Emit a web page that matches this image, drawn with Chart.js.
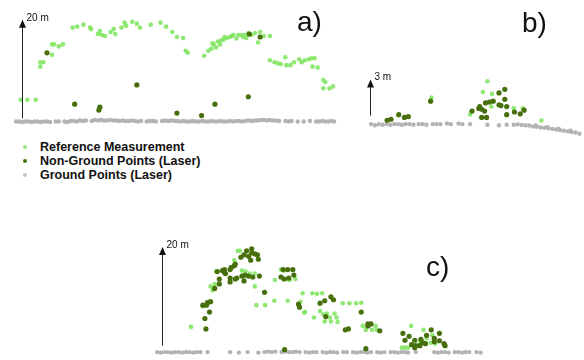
<!DOCTYPE html>
<html>
<head>
<meta charset="utf-8">
<script src="https://cdn.jsdelivr.net/npm/chart.js@4.4.1/dist/chart.umd.min.js"></script>
<style>
  body { margin: 0; background: #fff; }
  #wrap { position: relative; width: 584px; height: 360px; overflow: hidden; font-family: "Liberation Sans", Arial, sans-serif; }
  canvas { position: absolute; }
  .tag { position: absolute; font-size: 28px; line-height: 28px; color: #111; }
  .leg { position: absolute; left: 40px; font-size: 12.5px; font-weight: bold; color: #111; line-height: 14px; }
  .dot { position: absolute; left: 23px; width: 4px; height: 4px; border-radius: 2px; }
</style>
</head>
<body>
<div id="wrap">
  <canvas id="chartA" width="332" height="130" style="left:10px;top:0px"></canvas>
  <canvas id="chartB" width="224" height="85" style="left:360px;top:60px"></canvas>
  <canvas id="chartC" width="350" height="130" style="left:145px;top:230px"></canvas>
  <div class="tag" style="left:297px;top:8px">a)</div>
  <div class="tag" style="left:522px;top:9px">b)</div>
  <div class="tag" style="left:426px;top:253px">c)</div>
  <div class="dot" style="top:145px;background:#9be57f"></div>
  <div class="leg" style="top:140px">Reference Measurement</div>
  <div class="dot" style="top:159px;background:#4d7414"></div>
  <div class="leg" style="top:154px">Non-Ground Points (Laser)</div>
  <div class="dot" style="top:173px;background:#c4c4c4"></div>
  <div class="leg" style="top:168px">Ground Points (Laser)</div>
</div>
<script>
// distances and heights in metres, [distance, height]
const seriesNames = ['Non-Ground Points (Laser)', 'Reference Measurement', 'Ground Points (Laser)'];

// panel a
const refA = [
  [-0.2,3.8],[1.1,3.8],[2.7,3.8],[3.6,10.5],[3.6,11.4],[4.2,11.4],[5.9,15.0],[6.3,15.0],[7.2,14.6],[8.0,15.0],
  [5.9,12.9],[9.9,18.4],[10.8,18.6],[12.0,19.0],[13.3,18.4],[13.5,18.1],[14.8,17.1],[15.2,17.7],[15.6,16.9],[16.2,16.7],
  [17.3,17.5],[17.9,18.1],[18.2,17.1],[19.4,18.4],[20.0,19.4],[20.3,18.8],[21.5,19.6],[22.4,19.2],[23.0,18.4],[25.1,19.0],
  [27.0,19.4],[28.1,18.6],[29.3,17.5],[30.2,16.5],[31.4,16.3],[31.9,13.7],[32.3,13.3],
  [35.5,12.7],[36.3,13.7],[36.9,14.1],[37.1,15.2],[37.8,14.4],[37.4,15.0],[38.2,15.6],[38.6,15.0],[38.8,15.8],[39.3,16.0],
  [39.5,16.5],[39.9,16.3],[40.5,16.5],[40.9,16.7],[41.2,16.9],[41.8,16.2],[42.2,16.9],[42.8,16.9],[43.1,16.5],[43.5,16.9],
  [43.7,16.3],[44.1,17.3],[44.7,16.9],[45.4,17.3],[46.0,15.4],[46.4,17.5],[47.1,16.7],[48.3,16.7],
  [48.3,11.8],[49.2,11.4],[49.8,11.2],[50.4,11.0],[51.3,12.4],[51.5,10.8],[52.3,10.8],[53.0,11.4],[54.0,12.0],[54.5,11.4],
  [55.1,11.8],[55.9,12.0],[56.4,12.2],[57.0,12.2],[56.6,10.5],[57.6,10.3],[58.7,7.8],[59.1,7.4],[58.7,6.1],[59.9,6.1],[60.6,6.5]
];
const nonGroundA = [
  [4.9,13.3],[10.3,2.9],[15.2,2.3],[15.0,1.7],[22.4,6.8],[30.2,1.1],[35.0,0.6],[37.6,2.9],[44.1,4.4],[44.3,17.1],[46.4,16.5]
];
const groundA = [
  [-1.1,-0.6],[-0.5,-0.6],[0.1,-0.7],[0.7,-0.6],[1.3,-0.6],[1.9,-0.7],[2.5,-0.6],[3.1,-0.6],[3.7,-0.7],[4.3,-0.6],
  [4.9,-0.6],[5.5,-0.7],[6.6,-0.6],[7.2,-0.6],[8.3,-0.6],[8.9,-0.7],[9.5,-0.5],[10.1,-0.5],[10.7,-0.6],[11.3,-0.4],
  [11.9,-0.5],[12.5,-0.4],[13.6,-0.5],[14.2,-0.3],[14.8,-0.4],[15.4,-0.3],[16.0,-0.4],[16.6,-0.4],[17.2,-0.3],[17.8,-0.4],
  [18.4,-0.4],[19.0,-0.5],[19.6,-0.4],[20.2,-0.5],[20.8,-0.5],[21.4,-0.4],[22.0,-0.5],[22.6,-0.6],[23.2,-0.5],[24.3,-0.6],
  [24.9,-0.5],[25.5,-0.5],[26.1,-0.6],[27.3,-0.5],[27.9,-0.4],[28.5,-0.5],[29.1,-0.4],[29.7,-0.5],[30.3,-0.5],[30.9,-0.6],
  [31.5,-0.5],[32.1,-0.6],[32.7,-0.6],[33.3,-0.5],[33.9,-0.6],[34.5,-0.6],[35.1,-0.5],[35.7,-0.6],[36.3,-0.6],[36.9,-0.5],
  [37.5,-0.6],[38.1,-0.6],[38.7,-0.5],[39.3,-0.6],[39.9,-0.6],[40.5,-0.5],[41.1,-0.6],[41.7,-0.5],[42.3,-0.5],[42.9,-0.6],
  [43.5,-0.5],[44.1,-0.4],[44.7,-0.5],[45.3,-0.4],[45.9,-0.4],[46.5,-0.3],[47.1,-0.3],[47.7,-0.4],[48.3,-0.3],[48.9,-0.4],
  [49.5,-0.4],[50.1,-0.5],[51.3,-0.5],[51.9,-0.6],[52.5,-0.5],[53.7,-0.6],[54.9,-0.6],[56.1,-0.5],[57.3,-0.6],[57.9,-0.6],
  [58.5,-0.5],[59.1,-0.6],[59.7,-0.6],[60.3,-0.5],[60.8,-0.6]
];

// panel b
const refB = [
  [4.8,1.5],[9.15,2.85],[8.8,1.95],[9.5,1.8],[7.8,0.1],[9.45,0.75],[11.2,0.6],[11.9,0.6],[13.35,-0.4]
];
const nonGroundB = [
  [1.35,-0.38],[1.65,-0.3],[2.25,0.08],[2.7,-0.15],[3.0,-0.08],[4.73,1.2],[7.95,0.38],[8.48,0.6],[8.55,0.75],[8.7,0.53],
  [8.93,0.38],[9.0,1.05],[8.7,-0.15],[9.08,-0.15],[9.3,1.13],[9.6,1.2],[10.05,1.88],[10.5,2.18],[10.05,0.9],[10.2,0.83],
  [10.5,1.35],[10.65,0.75],[10.65,0.08],[11.25,0.3],[11.7,0.15],[12.0,0.45]
];
const groundB = [
  [0.1,-0.7],[0.4,-0.8],[0.7,-0.7],[1.0,-0.75],[1.3,-0.7],[1.6,-0.75],[1.9,-0.7],[2.2,-0.7],[2.5,-0.75],[2.8,-0.7],
  [3.1,-0.7],[3.4,-0.75],[3.8,-0.7],[4.1,-0.7],[4.4,-0.75],[4.9,-0.7],[5.2,-0.7],[5.5,-0.7],[6.0,-0.65],[6.3,-0.7],
  [6.9,-0.65],[7.2,-0.7],[7.8,-0.7],[9.15,-0.75],[10.05,-0.8],[10.65,-0.75],[11.2,-0.75],[11.5,-0.72],[11.8,-0.78],[12.1,-0.8],
  [12.4,-0.82],[12.7,-0.9],[13.0,-0.92],[13.3,-0.98],[13.6,-1.0],[13.9,-1.05],[14.2,-1.1],[14.5,-1.15],[14.8,-1.2],[15.1,-1.25],
  [15.4,-1.3],[15.7,-1.35],[16.0,-1.4],[16.3,-1.5],[12.9,-0.82],[13.8,-0.95],[14.7,-1.1],[15.6,-1.25]
];

// panel c
const refC = [
  [5.7,3.8],[8.0,8.0],[9.5,12.0],[9.9,11.2],[10.3,12.5],[10.6,15.0],[14.1,17.3],[14.8,19.2],[15.2,19.2],[15.6,15.2],
  [16.3,15.0],[17.1,14.6],[18.1,14.6],[18.1,12.0],[18.4,8.2],[20.1,8.2],[21.9,9.1],[22.0,13.3],[23.2,15.4],[23.8,15.2],
  [24.5,13.5],[24.9,13.3],[26.0,13.5],[24.5,9.1],[27.4,10.6],[27.7,6.7],
  [27.0,8.9],[29.3,10.6],[30.2,10.5],[31.2,10.6],[27.9,6.8],[29.6,5.7],[30.8,7.0],[31.4,6.3],[32.1,6.5],[32.7,5.7],
  [33.6,6.5],[34.0,5.7],[34.2,4.8],[32.9,4.9],[31.7,4.9],[35.2,8.6],[36.5,8.6],[37.8,8.6],[38.8,8.7],[39.1,4.0],
  [39.7,3.2],[40.9,3.2],[41.6,4.0],[41.8,3.2],[48.5,4.0],[50.9,3.2],[51.5,1.5],[46.7,-0.4],[47.3,-0.4],[47.9,-0.4],
  [50.2,0.6],[52.3,0.6],[53.2,0.4],[52.6,2.1]
];
const nonGroundC = [
  [8.6,3.4],[8.4,5.5],[9.3,6.8],[8.0,8.2],[8.7,8.2],[8.9,8.7],[9.5,8.9],[10.3,11.6],[11.2,12.5],[11.2,13.5],
  [10.8,15.0],[11.8,15.2],[12.2,14.8],[12.4,14.6],[12.2,15.4],[13.3,15.4],[13.3,13.7],[13.5,15.8],[14.1,16.2],[14.3,16.5],
  [14.6,13.7],[14.3,13.5],[13.3,12.9],[15.6,14.1],[16.0,13.1],[16.2,14.3],[16.9,14.1],[17.7,13.9],[19.0,14.1],[15.4,17.9],
  [16.0,18.4],[16.5,19.2],[16.9,18.1],[17.5,19.6],[17.5,18.8],[18.1,18.6],[18.6,18.4],[18.8,17.5],[17.3,17.3],[20.0,10.8],
  [23.6,15.4],[24.5,15.4],[25.5,15.4],[23.2,13.9],[23.8,13.5],[24.7,13.7],[25.7,14.3],[26.6,8.4],[26.8,7.8],[23.9,-0.8],
  [30.8,8.6],[31.7,9.1],[32.9,9.9],[33.4,9.3],[31.9,5.9],[38.8,6.8],[40.1,4.4],[40.7,4.4],[40.1,4.0],[42.4,3.0],
  [35.7,3.2],[36.3,3.4],[39.7,-0.6],[46.9,2.5],[47.3,1.1],[48.1,1.9],[49.2,1.1],[50.4,1.3],[51.5,2.1],[52.4,3.2],
  [54.0,2.5],[53.0,1.5],[50.7,0.6],[51.3,0.4],[48.6,0.2],[49.4,0.0],[49.2,-0.4],[50.2,0.0],[54.0,1.0],[54.9,0.4],
  [55.1,0.0],[53.0,0.8]
];
const groundC = [
  [-0.9,-1.3],[-0.2,-1.4],[0.5,-1.3],[1.2,-1.3],[1.9,-1.4],[2.6,-1.3],[3.3,-1.3],[4.0,-1.4],[4.7,-1.3],[5.4,-1.3],
  [6.1,-1.4],[6.8,-1.3],[7.5,-1.3],[8.9,-1.3],[13.3,-1.3],[15.0,-1.4],[16.7,-1.3],[18.8,-1.4],
  [20.0,-1.3],[20.7,-1.2],[21.4,-1.3],[22.1,-1.2],[23.3,-1.3],[24.0,-1.2],[24.7,-1.3],[25.4,-1.3],[26.1,-1.2],[26.8,-1.3],
  [28.0,-1.3],[28.7,-1.4],[29.4,-1.3],[30.1,-1.3],[31.3,-1.3],[32.0,-1.4],[32.7,-1.3],[33.4,-1.3],[34.1,-1.4],[35.3,-1.3],
  [36.0,-1.3],[37.2,-1.3],[37.9,-1.4],[38.6,-1.3],[39.3,-1.3],[40.0,-1.4],[40.7,-1.3],[41.9,-1.3],[42.6,-1.4],[43.3,-1.3],
  [44.5,-1.3],[45.2,-1.3],[45.9,-1.4],[46.6,-1.3],[47.3,-1.3],[47.9,-1.4],[49.4,-1.3],
  [53.0,-1.3],[53.7,-1.4],[54.4,-1.3],[55.1,-1.3],[55.8,-1.4],[57.0,-1.3],[57.7,-1.3],[58.4,-1.4],[59.1,-1.3],[59.8,-1.3],
  [61.2,-1.3],[62.0,-1.4]
];

const darkGreen = '#47700c';
const lightGreen = 'rgba(130, 230, 100, 0.9)';
const grey = '#b3b3b3';

const toPts = arr => arr.map(p => ({ x: p[0], y: p[1] }));

// vertical scale arrow with its label, drawn in data units
const scaleArrow = {
  id: 'scaleArrow',
  afterDatasetsDraw(chart, args, opts) {
    const ctx = chart.ctx;
    const xs = chart.scales.x, ys = chart.scales.y;
    const x = Math.round(xs.getPixelForValue(0)) + 0.5;
    const y0 = ys.getPixelForValue(0);
    const y1 = ys.getPixelForValue(opts.top);
    ctx.save();
    ctx.strokeStyle = '#222';
    ctx.fillStyle = '#111';
    ctx.lineWidth = 1;
    ctx.beginPath();
    ctx.moveTo(x, y0);
    ctx.lineTo(x, y1 + 6);
    ctx.stroke();
    ctx.beginPath();
    ctx.moveTo(x, y1);
    ctx.lineTo(x - 3.5, y1 + 8);
    ctx.lineTo(x + 3.5, y1 + 8);
    ctx.closePath();
    ctx.fill();
    ctx.font = '10px "Liberation Sans", Arial, sans-serif';
    ctx.textBaseline = 'alphabetic';
    ctx.fillText(opts.label, x + 4, y1 + 1);
    ctx.restore();
  }
};

function makeChart(id, nonGround, ref, ground, xr, yr, top, label) {
  new Chart(document.getElementById(id), {
    type: 'scatter',
    data: {
      datasets: [
        { label: seriesNames[0], data: toPts(nonGround), backgroundColor: darkGreen, pointRadius: 2.6, borderWidth: 0, clip: false },
        { label: seriesNames[1], data: toPts(ref), backgroundColor: lightGreen, pointRadius: 2.3, borderWidth: 0, clip: false },
        { label: seriesNames[2], data: toPts(ground), backgroundColor: grey, pointRadius: 2.2, borderWidth: 0, clip: false }
      ]
    },
    options: {
      responsive: false,
      animation: false,
      devicePixelRatio: 1,
      layout: { padding: 0 },
      scales: {
        x: { type: 'linear', display: false, min: xr[0], max: xr[1] },
        y: { type: 'linear', display: false, min: yr[0], max: yr[1] }
      },
      plugins: {
        legend: { display: false },
        tooltip: { enabled: false },
        scaleArrow: { top: top, label: label }
      }
    },
    plugins: [scaleArrow]
  });
}

makeChart('chartA', nonGroundA, refA, groundA, [-1.52, 61.56], [-1.52, 23.18], 20, '20 m');
makeChart('chartB', nonGroundB, refB, groundB, [-0.45, 16.35], [-2.1, 4.275], 3, '3 m');
makeChart('chartC', nonGroundC, refC, groundC, [-2.47, 64.03], [-2.09, 22.61], 20, '20 m');
</script>
</body>
</html>
